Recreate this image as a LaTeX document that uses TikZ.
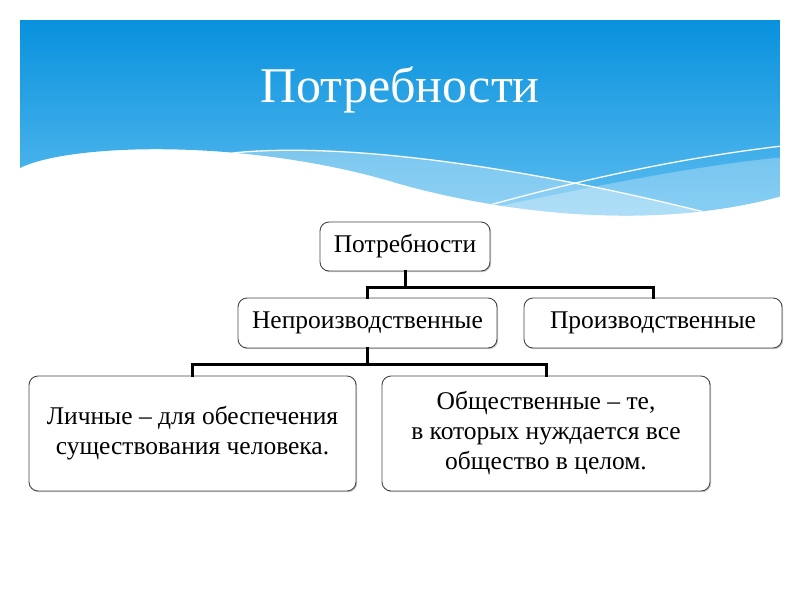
\documentclass[tikz,border=0pt]{standalone}
\usepackage{fontspec}
\setmainfont{Liberation Serif}
\usetikzlibrary{shadows}
\definecolor{bannertop}{RGB}{8,145,221}
\definecolor{bannerbot}{RGB}{98,192,241}
\definecolor{boxline}{RGB}{70,70,70}
\tikzset{
  box/.style={draw=boxline, line width=0.9pt, rounded corners=9pt, fill=white,
    align=center, inner sep=0pt, font=\fontsize{25.5}{30}\selectfont,
    drop shadow={shadow xshift=1.2pt, shadow yshift=-1.2pt, opacity=0.35, fill=black!60}},
  conn/.style={line width=3pt, black, line cap=rect}
}
\begin{document}
\begin{tikzpicture}[x=1pt,y=-1pt]
\useasboundingbox (0,0) rectangle (800,600);
% banner, clipped to its wavy outline
\begin{scope}
  \clip (20,20) -- (780,20) -- (780,196.5)
    .. controls (650,232) and (500,212) .. (400,184)
    .. controls (250,138) and (70,143) .. (20,168) -- cycle;
  \shade[top color=bannertop, bottom color=bannerbot] (20,20) rectangle (780,230);
  % light bands
  \fill[white, opacity=0.32] (230,153) .. controls (360,140) and (560,175) .. (720,216) -- (720,240) -- (230,240) -- cycle;
  \fill[white, opacity=0.28] (500,206) .. controls (600,185) and (700,165) .. (785,157) -- (785,240) -- (500,240) -- cycle;
  % white lines
  \draw[white, line width=1.3pt] (232,153) .. controls (360,140) and (560,175) .. (720,216);
  \draw[white, line width=1.3pt] (490,205) .. controls (580,180) and (680,158) .. (782,146);
\end{scope}
\node[anchor=base, text=white, font=\fontsize{50}{60}\selectfont] (title) at (400,102) {Потребности};
% boxes
\node[box, minimum width=170pt, minimum height=49pt] (b0) at (405,246.5) {Потребности};
\node[box, minimum width=259pt, minimum height=50pt] (b1) at (367.5,323) {Непроизводственные};
\node[box, minimum width=258pt, minimum height=50pt] (b2) at (653,323) {Производственные};
\node[box, minimum width=327pt, minimum height=115pt] (b3) at (192.5,433.5) {Личные – для обеспечения\\существования человека.};
\node[box, minimum width=328pt, minimum height=115pt] (b4) at (546,433.5) {Общественные – те,\\в которых нуждается все\\общество в целом.};
% connectors
\coordinate (j1) at (405,287);
\coordinate (j2) at (367.5,364);
\draw[conn] (b0.south) -- (j1);
\draw[conn] (j1) -| (b1.north);
\draw[conn] (j1) -| (b2.north);
\draw[conn] (b1.south) -- (j2);
\draw[conn] (j2) -| (b3.north);
\draw[conn] (j2) -| (b4.north);
\end{tikzpicture}
\end{document}
